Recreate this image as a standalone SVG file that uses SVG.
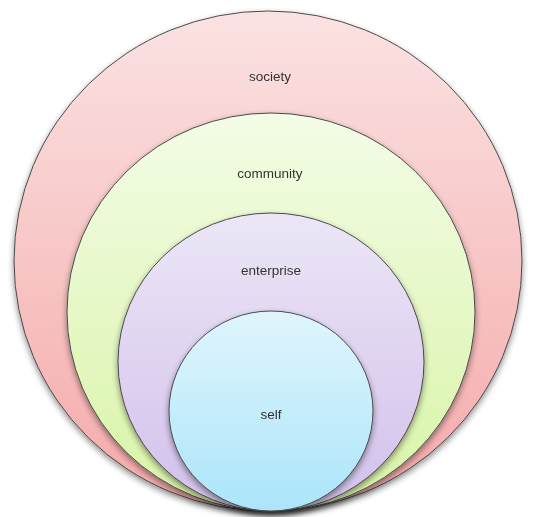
<svg xmlns="http://www.w3.org/2000/svg" width="536" height="517" viewBox="0 0 536 517">
  <defs>
    <linearGradient id="gSociety" x1="0" y1="0" x2="0" y2="1">
      <stop offset="0" stop-color="#fbe2e2"/>
      <stop offset="1" stop-color="#f5a9a9"/>
    </linearGradient>
    <linearGradient id="gCommunity" x1="0" y1="0" x2="0" y2="1">
      <stop offset="0" stop-color="#f3fce6"/>
      <stop offset="1" stop-color="#d8f4a6"/>
    </linearGradient>
    <linearGradient id="gEnterprise" x1="0" y1="0" x2="0" y2="1">
      <stop offset="0" stop-color="#ece6f6"/>
      <stop offset="1" stop-color="#d2c0ec"/>
    </linearGradient>
    <linearGradient id="gSelf" x1="0" y1="0" x2="0" y2="1">
      <stop offset="0" stop-color="#e0f5fd"/>
      <stop offset="1" stop-color="#abe5fa"/>
    </linearGradient>
    <filter id="shadow" x="-10%" y="-10%" width="120%" height="125%">
      <feGaussianBlur in="SourceAlpha" stdDeviation="3"/>
      <feOffset dx="0" dy="3" result="b"/>
      <feComponentTransfer><feFuncA type="linear" slope="0.45"/></feComponentTransfer>
      <feMerge><feMergeNode/><feMergeNode in="SourceGraphic"/></feMerge>
    </filter>
  </defs>
  <style>
    .ring { stroke: #4a4a4a; stroke-width: 1; }
    .label { font-family: "Liberation Sans", Arial, sans-serif; font-size: 13.5px; fill: #333333; text-anchor: middle; }
  </style>
  <rect width="536" height="517" fill="#ffffff"/>
  <g id="society" filter="url(#shadow)">
    <ellipse class="ring" cx="268" cy="261" rx="254" ry="250" fill="url(#gSociety)"/>
    <text class="label" x="270" y="81">society</text>
  </g>
  <g id="community" filter="url(#shadow)">
    <ellipse class="ring" cx="271" cy="312" rx="204" ry="199" fill="url(#gCommunity)"/>
    <text class="label" x="270" y="178">community</text>
  </g>
  <g id="enterprise" filter="url(#shadow)">
    <ellipse class="ring" cx="271" cy="362" rx="153" ry="149" fill="url(#gEnterprise)"/>
    <text class="label" x="271" y="275">enterprise</text>
  </g>
  <g id="self" filter="url(#shadow)">
    <ellipse class="ring" cx="271" cy="411" rx="102" ry="100" fill="url(#gSelf)"/>
    <text class="label" x="271" y="419">self</text>
  </g>
  <g id="connectors"/>
</svg>
